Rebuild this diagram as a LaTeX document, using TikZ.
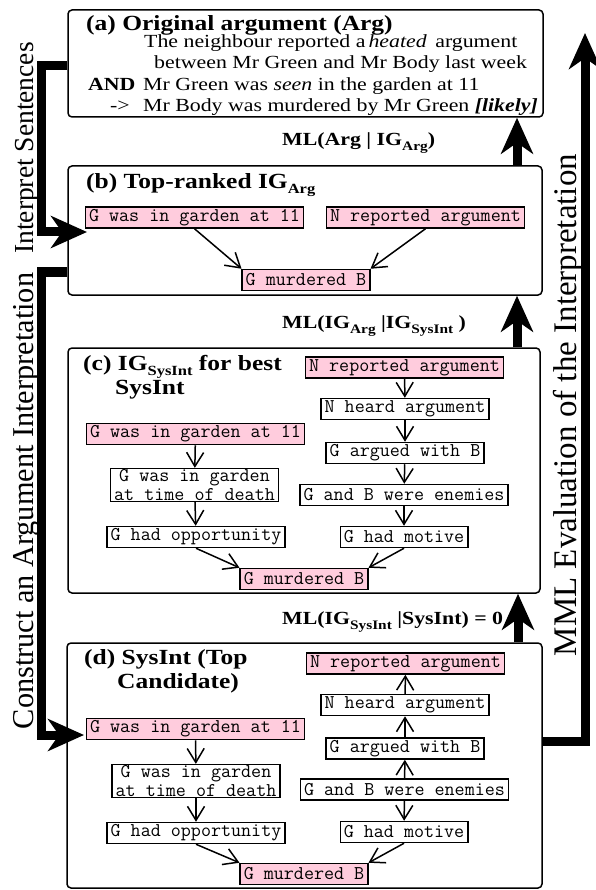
\documentclass[tikz,border=0pt]{standalone}
\usepackage{fontspec}
\setmainfont{Liberation Serif}
\newfontfamily\wserif{Liberation Serif}[FakeStretch=1.18,
  ItalicFont={Liberation Serif Italic}, BoldFont={Liberation Serif Bold},
  BoldItalicFont={Liberation Serif Bold Italic}]
\usetikzlibrary{arrows.meta}
\definecolor{nodepink}{RGB}{255,204,221}
\newcommand\subt[1]{\raisebox{-5pt}{\fontsize{14}{14}\selectfont #1}}
\newcommand\subl[1]{\raisebox{-5pt}{\fontsize{13}{13}\selectfont #1}}
\tikzset{
  panel/.style={draw, line width=1.5pt, rounded corners=4pt, inner sep=0pt},
  prop/.style={draw, line width=1.5pt, fill=white, font={\ttfamily\fontsize{19.5}{18.5}\selectfont},
    inner xsep=3.5pt, inner ysep=1pt, minimum height=21pt, align=center},
  pinkprop/.style={prop, fill=nodepink},
  title/.style={anchor=base west, font={\wserif\bfseries\fontsize{21.6}{22}\selectfont}, inner sep=0pt},
  body/.style={anchor=base west, font={\wserif\fontsize{18.5}{21}\selectfont}, inner sep=0pt},
  mllabel/.style={anchor=base west, font={\wserif\bfseries\fontsize{18.5}{19}\selectfont}, inner sep=0pt},
  sidelabel/.style={rotate=90, anchor=base, inner sep=0pt},
  arr/.style={line width=1.5pt, -{Straight Barb[length=14pt,width=17pt]}},
  fat/.style={line width=9pt, line join=miter, -{Stealth[length=36pt,width=32pt,inset=11pt]}}
}
\begin{document}
\begin{tikzpicture}[x=1pt,y=-1pt]
\useasboundingbox (0,0) rectangle (595,890);
% panels
\node[panel, minimum width=475pt, minimum height=107pt] (boxa) at (305.5,63.5) {};
\node[panel, minimum width=474pt, minimum height=129pt] (boxb) at (305,230.5) {};
\node[panel, minimum width=472pt, minimum height=245pt] (boxc) at (304,470.5) {};
\node[panel, minimum width=475pt, minimum height=245pt] (boxd) at (304.5,765.5) {};
% panel (a)
\node[title] (ta) at (86,31) {(a) Original argument (Arg)};
\node[body] (a1) at (144,47.5) {The neighbour reported a\,\textit{heated}\, argument};
\node[body] (a2) at (154,69) {between Mr Green and Mr Body last week};
\node[body] (a3k) at (88,90.5) {\textbf{AND}};
\node[body] (a3) at (143,90.5) {Mr Green was \textit{seen} in the garden at 11};
\node[body] (a4k) at (110,111.5) {->};
\node[body] (a4) at (143,111.5) {Mr Body was murdered by Mr Green \textbf{\textit{[likely]}}};
% labels between panels
\node[mllabel] (ml1) at (282,146) {ML(Arg | IG\subl{Arg})};
\node[mllabel] (ml2) at (282,328) {ML(IG\subl{Arg} |IG\subl{SysInt} )};
\node[mllabel] (ml3) at (282,624) {ML(IG\subl{SysInt} |SysInt) = 0};
% panel (b)
\node[title] (tb) at (86,189) {(b) Top-ranked IG\subt{Arg}};
\node[pinkprop] (b1) at (194.5,217.5) {G was in garden at 11};
\node[pinkprop] (b2) at (425.5,217.5) {N reported argument};
\node[pinkprop] (b3) at (306,280) {G murdered B};
\draw[arr] (b1.south) -- (b3.north west);
\draw[arr] (b2.south) -- (b3.north east);
% panel (c)
\node[title] (tc) at (83,370) {(c) IG\subt{SysInt} for best};
\node[title] (tc2) at (115,394) {SysInt};
\node[pinkprop] (c1) at (404.5,367.5) {N reported argument};
\node[prop] (c2) at (405,409) {N heard argument};
\node[prop] (c3) at (405,453) {G argued with B};
\node[prop] (c4) at (404,495) {G and B were enemies};
\node[prop] (c5) at (404,537) {G had motive};
\node[pinkprop] (c6) at (304,579) {G murdered B};
\node[pinkprop] (c7) at (195.5,434) {G was in garden at 11};
\node[prop] (c8) at (194.5,485) {G was in garden\\at time of death};
\node[prop] (c9) at (196,537) {G had opportunity};
\draw[arr] (c1) -- (c2);
\draw[arr] (c2) -- (c3);
\draw[arr] (c3) -- (c4);
\draw[arr] (c4) -- (c5);
\draw[arr] (c5.south) -- (c6.north east);
\draw[arr] (c7) -- (c8);
\draw[arr] (c8) -- (c9);
\draw[arr] (c9.south) -- (c6.north west);
% panel (d)
\node[title] (td) at (84,664) {(d) SysInt (Top};
\node[title] (td2) at (117,688) {Candidate)};
\node[pinkprop] (d1) at (405.5,663.5) {N reported argument};
\node[prop] (d2) at (405,705) {N heard argument};
\node[prop] (d3) at (405,748.5) {G argued with B};
\node[prop] (d4) at (404.5,789.5) {G and B were enemies};
\node[prop] (d5) at (404,832) {G had motive};
\node[pinkprop] (d6) at (304,874) {G murdered B};
\node[pinkprop] (d7) at (195.5,729) {G was in garden at 11};
\node[prop] (d8) at (196,781) {G was in garden\\at time of death};
\node[prop] (d9) at (196,833) {G had opportunity};
\draw[arr] (d2) -- (d1);
\draw[arr] (d3) -- (d2);
\draw[arr] (d4) -- (d3);
\draw[arr] (d4) -- (d5);
\draw[arr] (d5.south) -- (d6.north east);
\draw[arr] (d7) -- (d8);
\draw[arr] (d8) -- (d9);
\draw[arr] (d9.south) -- (d6.north west);
% side labels
\node[sidelabel, font=\fontsize{27.5}{28}\selectfont] (lint) at (33,148) {Interpret Sentences};
\node[sidelabel, font=\fontsize{30.3}{30}\selectfont] (lcon) at (33,501) {Construct an Argument Interpretation};
\node[sidelabel, font=\fontsize{33}{33}\selectfont] (lmml) at (576,405) {MML Evaluation of the Interpretation};
% thick connectors
\coordinate (isA) at (41,66);
\coordinate (isT) at (87,232);
\coordinate (caA) at (41,272);
\coordinate (caT) at (84,735);
\coordinate (mmA) at (585,741);
\coordinate (mmT) at (585,33);
\coordinate (xu) at (517,0);
\coordinate (xv) at (518,0);
\draw[fat] (boxa.west |- isA) -- (isA) |- (isT);
\draw[fat] (boxb.west |- caA) -- (caA) |- (caT);
\draw[fat] (boxd.east |- mmA) -- (mmA) -- (mmT);
\draw[fat] (boxb.north -| xu) -- (boxa.south -| xu);
\draw[fat] (boxc.north -| xu) -- (boxb.south -| xu);
\draw[fat] (boxd.north -| xv) -- (boxc.south -| xv);
\end{tikzpicture}
\end{document}
